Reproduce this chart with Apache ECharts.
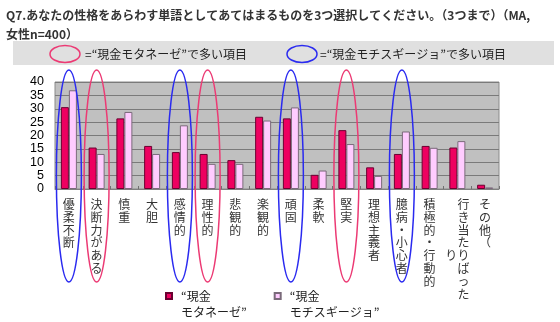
<!DOCTYPE html>
<html><head><meta charset="utf-8">
<script src="https://cdn.jsdelivr.net/npm/echarts@6/dist/echarts.min.js"></script>
<style>html,body{margin:0;padding:0;background:#fff}#c{width:560px;height:322px}</style>
</head><body><div id="c"></div>
<script>
const categories = ['優柔不断','決断力がある','慎重','大胆','感情的','理性的','悲観的','楽観的','頑固','柔軟','堅実','理想主義者','臆病・小心者','積極的・行動的','行き当たりばったり','その他（'];
const seriesNames = ['“現金\nモタネーゼ”','“現金\nモチスギージョ”'];
const motaneze = [30.6,15.5,26.4,16.1,13.8,13.1,10.8,27.0,26.4,5.3,22.0,8.1,13.1,16.1,15.5,1.6];
const mochisugi = [36.9,13.1,28.8,13.1,23.8,9.4,9.4,25.6,30.5,6.9,16.8,4.9,21.5,15.4,17.9,0.6];
const yTicks = [0,5,10,15,20,25,30,35,40];
const blueCircled = ['優柔不断','感情的','頑固','臆病・小心者'];
const redCircled = ['決断力がある','理性的','堅実'];
const titleText = 'Q7.あなたの性格をあらわす単語としてあてはまるものを3つ選択してください。（3つまで）（MA,\n女性n=400）';
const bandTexts = ['=“現金モタネーゼ”で多い項目','=“現金モチスギージョ”で多い項目'];

const JP = "'Noto Sans CJK JP','Liberation Sans',sans-serif";
const RED = '#ee0060', PINK = '#ffccff';
const BLUE_OVAL = '#2a2af0', RED_OVAL = '#ec3a74';

function vertical(s){
  const chars = Array.from(s);
  const max = 8;
  if (chars.length <= max) return chars.join('\n');
  const main = chars.slice(0, max), rest = chars.slice(max);
  const start = Math.ceil((max - rest.length) / 2);
  return main.map((c, i) => (i >= start && i < start + rest.length ? rest[i - start] : '　') + c).join('\n');
}

const chart = echarts.init(document.getElementById('c'), null, {renderer:'canvas'});
chart.setOption({
  animation: false,
  backgroundColor: '#fff',
  title: {
    text: titleText, left: 6, top: 6, padding: 0,
    textStyle: {fontSize: 12, fontWeight: 'bold', lineHeight: 19, color: '#333', fontFamily: JP}
  },
  legend: {
    left: 165, top: 272, padding: 0, itemGap: 27,
    itemWidth: 6, itemHeight: 6, icon: 'rect',
    textStyle: {fontSize: 12, lineHeight: 16, color: '#222', fontFamily: JP, padding: [0,0,0,4]},
    formatter: n => '\n' + n,
    data: seriesNames
  },
  grid: {left: 55, right: 61, top: 82, bottom: 133, show: true, backgroundColor: '#c0c0c0', borderColor: '#8a8a8a', borderWidth: 1},
  xAxis: {
    type: 'category', data: categories,
    axisLine: {lineStyle: {color: '#808080'}},
    axisTick: {show: true, inside: true, length: 3, lineStyle: {color: '#707070'}},
    axisLabel: {interval: 0, margin: 9, fontSize: 12, lineHeight: 12.8, color: '#333', fontFamily: JP, formatter: vertical, verticalAlign: 'top'}
  },
  yAxis: {
    type: 'value', min: yTicks[0], max: yTicks[yTicks.length-1], interval: yTicks[1]-yTicks[0],
    axisLine: {show: false}, axisTick: {show: false},
    splitLine: {lineStyle: {color: '#7a7a7a', width: 1}},
    axisLabel: {fontSize: 12.5, color: '#000', margin: 11, fontFamily: "'Liberation Sans',Arial,sans-serif"}
  },
  series: [
    {name: seriesNames[0], type: 'bar', data: motaneze, barWidth: 8, barGap: '0%',
     itemStyle: {color: RED, borderColor: '#6a0030', borderWidth: 1}},
    {name: seriesNames[1], type: 'bar', data: mochisugi, barWidth: 8, barGap: '0%',
     itemStyle: {color: PINK, borderColor: '#7a6a7a', borderWidth: 1}}
  ]
});

const els = [
  {type: 'rect', shape: {x: 13, y: 41, width: 541, height: 24}, style: {fill: '#e0e0e0'}, z: 1},
  {type: 'ellipse', shape: {cx: 65, cy: 54, rx: 15, ry: 8.5}, style: {fill: 'none', stroke: RED_OVAL, lineWidth: 1.5}, z: 2},
  {type: 'text', x: 85, y: 54, style: {text: bandTexts[0], fontSize: 12, fill: '#222', fontFamily: JP, verticalAlign: 'middle'}, z: 2},
  {type: 'ellipse', shape: {cx: 302, cy: 54, rx: 15, ry: 8.5}, style: {fill: 'none', stroke: BLUE_OVAL, lineWidth: 1.5}, z: 2},
  {type: 'text', x: 320, y: 54, style: {text: bandTexts[1], fontSize: 12, fill: '#222', fontFamily: JP, verticalAlign: 'middle'}, z: 2}
];
function oval(cat, color){
  const x = chart.convertToPixel({xAxisIndex: 0}, cat);
  els.push({type: 'ellipse', shape: {cx: x, cy: 176, rx: 12.5, ry: 106}, style: {fill: 'none', stroke: color, lineWidth: 1.5}, z: 100});
}
blueCircled.forEach(c => oval(c, BLUE_OVAL));
redCircled.forEach(c => oval(c, RED_OVAL));
chart.setOption({graphic: {elements: els}});
</script></body></html>
